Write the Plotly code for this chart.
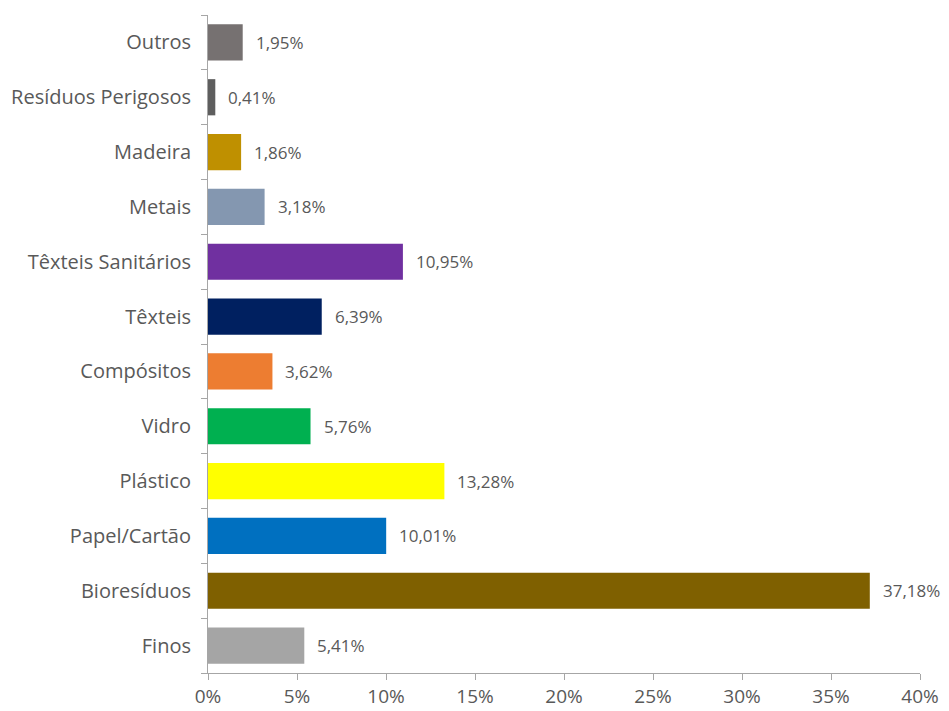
import plotly.graph_objects as go

categories = ["Finos", "Bioresíduos", "Papel/Cartão", "Plástico", "Vidro", "Compósitos",
              "Têxteis", "Têxteis Sanitários", "Metais", "Madeira", "Resíduos Perigosos", "Outros"]
values = [5.41, 37.18, 10.01, 13.28, 5.76, 3.62, 6.39, 10.95, 3.18, 1.86, 0.41, 1.95]
labels = ["5,41%", "37,18%", "10,01%", "13,28%", "5,76%", "3,62%", "6,39%", "10,95%",
          "3,18%", "1,86%", "0,41%", "1,95%"]
colors = ["#A5A5A5", "#7F6000", "#0070C0", "#FFFF00", "#00B050", "#ED7D31",
          "#002060", "#7030A0", "#8497B0", "#BF9000", "#5E5E5E", "#767171"]
xticks = [0, 5, 10, 15, 20, 25, 30, 35, 40]

FONT = "'Open Sans', sans-serif"
TXT = "#595959"

fig = go.Figure(go.Bar(
    y=categories, x=values, orientation="h",
    marker=dict(color=colors, line=dict(width=0)),
    width=0.66,
    hoverinfo="skip",
))

for c, v, t in zip(categories, values, labels):
    fig.add_annotation(x=v, y=c, text=t, showarrow=False, xanchor="left",
                       xshift=12, borderpad=0, font=dict(family=FONT, size=17, color=TXT))

fig.update_layout(
    width=941, height=703,
    margin=dict(l=200, r=29, t=7, b=38, autoexpand=False),
    plot_bgcolor="white", paper_bgcolor="white",
    showlegend=False,
    font=dict(family=FONT, size=18, color=TXT),
)
fig.update_xaxes(range=[0, 40], tickvals=xticks, ticktext=[f"{v}%" for v in xticks],
                 showgrid=False, zeroline=False, showline=True, linecolor="#A6A6A6",
                 linewidth=1, ticks="outside", ticklen=6, tickcolor="#A6A6A6",
                 automargin=False,
                 tickfont=dict(family=FONT, size=19, color=TXT))
fig.update_yaxes(showgrid=False, showline=True, linecolor="#A6A6A6", linewidth=1,
                 ticks="outside", ticklen=6, tickcolor="#A6A6A6", tickson="boundaries",
                 automargin=False, ticklabelstandoff=12,
                 tickfont=dict(family=FONT, size=20, color=TXT))

fig.write_html("out.html")
